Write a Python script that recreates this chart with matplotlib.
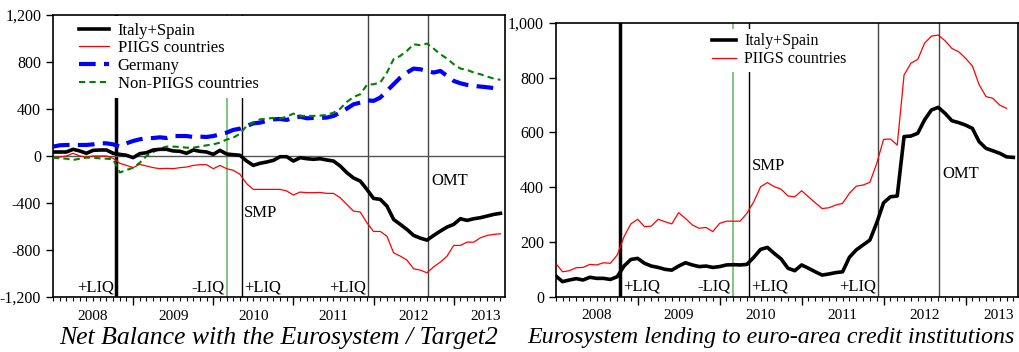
import matplotlib
matplotlib.use("Agg")
import matplotlib.pyplot as plt
import numpy as np
import pandas as pd
from matplotlib.ticker import FuncFormatter

plt.rcParams['font.family'] = ['Liberation Serif', 'DejaVu Serif']

# monthly observations, Jan 2008 onwards (EUR bn)
target2_italy_spain = [34, 34, 34, 57, 43, 23, 48, 51, 51, 23, 14, 6, -14, 20, 28, 51, 57, 57,
                       43, 40, 23, 51, 40, 34, 14, 48, 17, 11, 6, -43, -80, -62, -51, -37, -6,
                       -6, -43, -14, -23, -28, -23, -34, -43, -85, -142, -187, -213, -284, -361,
                       -369, -426, -540, -582, -625, -676, -699, -716, -676, -639, -605, -582,
                       -534, -548, -534, -525, -511, -497, -488]
target2_piigs = [-14, -9, 0, 23, 0, -9, 0, 0, 0, -20, -62, -80, -99, -71, -85, -99, -108, -105,
                 -108, -99, -94, -80, -74, -74, -108, -80, -108, -122, -156, -236, -284, -284,
                 -284, -284, -284, -298, -332, -307, -312, -312, -310, -318, -318, -355, -412,
                 -469, -477, -568, -642, -642, -682, -824, -852, -886, -960, -971, -994, -943,
                 -903, -852, -761, -761, -733, -733, -696, -676, -667, -662]
target2_germany = [80, 91, 94, 94, 94, 94, 99, 108, 108, 99, 80, 108, 128, 142, 151, 153, 159,
                   153, 170, 170, 170, 162, 165, 162, 170, 185, 199, 222, 233, 256, 278, 284,
                   298, 312, 315, 307, 327, 335, 321, 324, 324, 327, 341, 369, 403, 440, 454,
                   474, 469, 497, 554, 611, 667, 710, 744, 738, 724, 710, 724, 682, 639, 619,
                   605, 596, 591, 585, 578, 576]
target2_non_piigs = [-14, -20, -23, -34, -23, -14, -14, -20, -23, -28, -140, -120, -99, -57, 0,
                     34, 62, 80, 80, 77, 71, 71, 80, 91, 99, 114, 140, 156, 190, 256, 284, 312,
                     318, 324, 318, 335, 361, 341, 341, 341, 344, 349, 369, 403, 460, 503, 525,
                     605, 611, 625, 710, 824, 852, 895, 951, 943, 957, 914, 866, 829, 781, 744,
                     733, 710, 696, 676, 659, 648]

lending_italy_spain = [76, 55, 61, 66, 61, 71, 67, 67, 63, 73, 112, 136, 140, 122, 112, 107, 100,
                       97, 112, 124, 116, 110, 112, 107, 110, 116, 117, 116, 118, 144, 173, 180,
                       158, 138, 104, 95, 116, 104, 91, 79, 83, 88, 91, 144, 171, 189, 207, 270,
                       343, 365, 368, 585, 587, 597, 646, 682, 692, 670, 643, 636, 627, 615,
                       566, 542, 533, 524, 511, 509]
lending_piigs = [122, 91, 95, 106, 107, 118, 116, 124, 122, 152, 219, 266, 283, 256, 258, 283,
                 274, 266, 307, 286, 262, 250, 253, 238, 268, 276, 276, 276, 305, 347, 402, 417,
                 402, 393, 368, 365, 387, 365, 343, 322, 325, 335, 341, 378, 404, 408, 418, 487,
                 575, 576, 554, 810, 853, 867, 926, 952, 956, 935, 907, 895, 871, 843, 774, 731,
                 725, 700, 688]

years = [2008, 2009, 2010, 2011, 2012, 2013]
year_labels = ['2008', '2009', '2010', '2011', '2012', '2013']

# policy events
event_dates = ['2008-10-15', '2010-03-01', '2010-05-10', '2011-12-08', '2012-09-06']
event_colors = ['black', '#5cb85c', 'black', '#444444', '#444444']
event_widths = [2.5, 1.1, 1.0, 1.0, 1.0]


def decimal_year(d):
    d = pd.Timestamp(d)
    return d.year + (d.month - 1 + (d.day - 1) / d.days_in_month) / 12


def month_axis(n):
    return 2008 + np.arange(n) / 12


events = [decimal_year(d) for d in event_dates]
x_end = 2013.64


def style_axis(ax):
    ax.set_xlim(2008, x_end)
    ax.set_xticks(years[1:])
    ax.set_xticklabels([])
    ax.set_xticks(np.arange(2008, x_end, 1 / 12), minor=True)
    ax.tick_params(axis='x', which='major', direction='out', length=6, width=1)
    ax.tick_params(axis='x', which='minor', direction='out', length=3, width=0.8)
    ax.tick_params(axis='y', direction='out', length=5, width=1, labelsize=11.5)
    ax.yaxis.set_major_formatter(FuncFormatter(lambda v, p: f'{v:,.0f}'))
    for s in ax.spines.values():
        s.set_linewidth(1.2)
    # year names sit in the middle of each year (last one inside the visible part)
    sec = ax.secondary_xaxis('bottom')
    centres = [y + 0.5 for y in years[:-1]] + [years[-1] + 0.4]
    sec.set_xticks(centres, year_labels)
    sec.tick_params(length=0, pad=9, labelsize=11)
    sec.spines['bottom'].set_visible(False)
    for e, c, w in zip(events, event_colors, event_widths):
        ax.axvline(e, color=c, lw=w, zorder=1)


fig = plt.figure(figsize=(10.19, 3.52), dpi=100)

# left: Target2 balances
ax1 = fig.add_axes([53 / 1019, 1 - 297 / 352, 452 / 1019, 282 / 352])
style_axis(ax1)
ax1.axhline(0, color='#555555', lw=1, zorder=1)
ax1.plot(month_axis(len(target2_italy_spain)), target2_italy_spain, color='black', lw=2.6,
         label='Italy+Spain', zorder=4)
ax1.plot(month_axis(len(target2_piigs)), target2_piigs, color='red', lw=0.9,
         label='PIIGS countries', zorder=3)
ax1.plot(month_axis(len(target2_germany)), target2_germany, color='blue', lw=3,
         dashes=(4, 2), label='Germany', zorder=3)
ax1.plot(month_axis(len(target2_non_piigs)), target2_non_piigs, color='green', lw=1.5,
         dashes=(3, 2), label='Non-PIIGS countries', zorder=3)
ax1.set_ylim(-1200, 1200)
ax1.set_yticks([-1200, -800, -400, 0, 400, 800, 1200])
ax1.legend(loc='upper left', bbox_to_anchor=(0.042, 0.997), fontsize=12, frameon=True,
           facecolor='white', edgecolor='none', framealpha=1, fancybox=False,
           handlelength=1.8, handletextpad=0.55, labelspacing=0.1, borderpad=0.4,
           borderaxespad=0.0)
ax1.set_xlabel('Net Balance with the Eurosystem / Target2', fontsize=18.5, style='italic')
ax1.xaxis.set_label_coords(0.5, -0.105)

txt = dict(fontsize=12, va='bottom')
ax1.text(events[0] - 0.03, -1190, '+LIQ', ha='right', **txt)
ax1.text(events[1] - 0.03, -1190, '-LIQ', ha='right', **txt)
ax1.text(events[2] + 0.03, -1190, '+LIQ', ha='left', **txt)
ax1.text(events[3] - 0.03, -1190, '+LIQ', ha='right', **txt)
ax1.text(events[2] + 0.03, -555, 'SMP', ha='left', **txt)
ax1.text(events[4] + 0.04, -285, 'OMT', ha='left', **txt)

# right: Eurosystem lending
ax2 = fig.add_axes([555.7 / 1019, 1 - 296.7 / 352, 462.3 / 1019, 273.7 / 352])
style_axis(ax2)
ax2.plot(month_axis(len(lending_italy_spain)), lending_italy_spain, color='black', lw=2.6,
         label='Italy+Spain', zorder=4)
ax2.plot(month_axis(len(lending_piigs)), lending_piigs, color='red', lw=0.9,
         label='PIIGS countries', zorder=3)
ax2.set_ylim(0, 1000)
ax2.set_yticks([0, 200, 400, 600, 800, 1000])
ax2.legend(loc='upper left', bbox_to_anchor=(0.325, 0.985), fontsize=11.5, frameon=True,
           facecolor='white', edgecolor='none', framealpha=1, fancybox=False,
           handlelength=1.5, handletextpad=0.5, labelspacing=0.1, borderpad=0.3,
           borderaxespad=0.1)
ax2.set_xlabel('Eurosystem lending to euro-area credit institutions', fontsize=17.3,
               style='italic')
ax2.xaxis.set_label_coords(0.466, -0.11)

ax2.text(events[0] + 0.03, 8, '+LIQ', ha='left', **txt)
ax2.text(events[1] - 0.03, 8, '-LIQ', ha='right', **txt)
ax2.text(events[2] + 0.03, 8, '+LIQ', ha='left', **txt)
ax2.text(events[3] - 0.03, 8, '+LIQ', ha='right', **txt)
ax2.text(events[2] + 0.03, 450, 'SMP', ha='left', **txt)
ax2.text(events[4] + 0.04, 420, 'OMT', ha='left', **txt)

fig.savefig('out.png', dpi=100)
